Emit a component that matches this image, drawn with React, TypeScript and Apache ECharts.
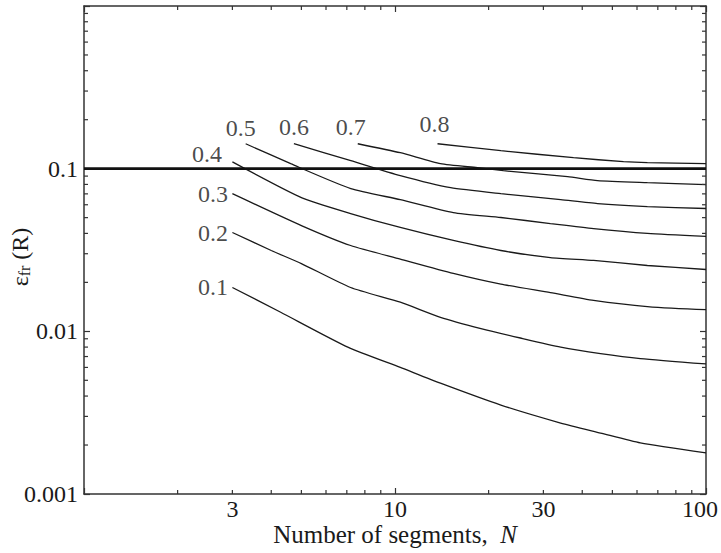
import React, { useEffect, useRef } from 'react';
import * as echarts from 'echarts';

// ---- data ----
const curveNames = ['0.1', '0.2', '0.3', '0.4', '0.5', '0.6', '0.7', '0.8'];

const curve01: number[][] = [[3, 0.0186], [4.29, 0.0131], [7.05, 0.008], [10.4, 0.006], [14, 0.0048], [21.9, 0.00352], [34.1, 0.00273], [45.8, 0.00237], [61.5, 0.00206], [100, 0.00179]];
const curve02: number[][] = [[3, 0.0405], [4, 0.0314], [5, 0.0261], [7.2, 0.0186], [10.4, 0.0151], [14, 0.0122], [18.9, 0.0104], [25.3, 0.0091], [34.1, 0.008], [45.8, 0.0073], [61.5, 0.0068], [100, 0.0063]];
const curve03: number[][] = [[3, 0.0702], [5, 0.0447], [7.2, 0.0337], [10.4, 0.0278], [15.4, 0.0227], [21.9, 0.0195], [31.6, 0.0173], [43.5, 0.0155], [64.8, 0.0142], [100, 0.0136]];
const curve04: number[][] = [[3, 0.11], [5, 0.0664], [7.2, 0.053], [10.4, 0.0435], [15.4, 0.0362], [21.9, 0.0314], [31.6, 0.0284], [43.5, 0.0273], [64.8, 0.0254], [100, 0.024]];
const curve05: number[][] = [[3.31, 0.1423], [4.62, 0.1073], [7.21, 0.0754], [10.4, 0.0645], [15.4, 0.0537], [21.9, 0.0501], [31.6, 0.046], [43.5, 0.0428], [64.8, 0.04], [100, 0.0383]];
const curve06: number[][] = [[4.73, 0.1423], [7.21, 0.1119], [10.4, 0.0906], [15.1, 0.0764], [21.9, 0.0702], [34.1, 0.0645], [44.8, 0.061], [64.8, 0.0585], [100, 0.0569]];
const curve07: number[][] = [[7.59, 0.1423], [10.4, 0.1253], [14, 0.1073], [18.4, 0.1014], [22.3, 0.0972], [35.9, 0.0893], [44.8, 0.0844], [64.8, 0.082], [100, 0.0798]];
const curve08: number[][] = [[13.7, 0.1423], [21.9, 0.129], [37.5, 0.1168], [54.3, 0.1104], [64.8, 0.1088], [100, 0.1073]];

const curves = [curve01, curve02, curve03, curve04, curve05, curve06, curve07, curve08];

const thresholdValue = 0.1;
const xRange = [1, 100];
const yRange = [0.001, 1];
const xTickLabels = [3, 10, 30, 100];
const yTickLabels = [0.001, 0.01, 0.1];
const xMinorTicks = [2, 3, 4, 5, 6, 7, 8, 9, 20, 30, 40, 50, 60, 70, 80, 90];
const yMinorTicks = [0.002, 0.003, 0.004, 0.005, 0.006, 0.007, 0.008, 0.009, 0.02, 0.03, 0.04, 0.05, 0.06, 0.07, 0.08, 0.09, 0.2, 0.3, 0.4, 0.5, 0.6, 0.7, 0.8, 0.9];

// ---- layout / style ----
const FONT = "'Liberation Serif', 'Times New Roman', serif";
const INK = '#1a1a1a';
const AXIS = '#333';
const labelPlacement: any[] = [
  { position: 'left', distance: 4 },
  { position: 'left', distance: 4 },
  { position: 'left', distance: 4 },
  { position: 'left', distance: 4, offset: [-6, -8] },
  { position: 'top', distance: 3, offset: [-5, 0] },
  { position: 'top', distance: 4, offset: [0, 0] },
  { position: 'top', distance: 4, offset: [-7, 0] },
  { position: 'top', distance: 7, offset: [-3, 0] },
];

export default function App() {
  const ref = useRef<HTMLDivElement>(null);
  useEffect(() => {
    if (!ref.current) return;
    const chart = echarts.init(ref.current, undefined, { renderer: 'svg' });

    const tickData = [
      ...xMinorTicks.map((v) => [v, yRange[0], 0]),
      ...yMinorTicks.map((v) => [xRange[0], v, 1]),
    ];
    const axisCommon = {
      type: 'log',
      logBase: 10,
      axisLine: { show: true, lineStyle: { color: AXIS, width: 1.5 } },
      axisTick: { show: true, inside: true, length: 6, lineStyle: { color: AXIS, width: 1.2 } },
      splitLine: { show: false },
      minorTick: { show: false },
    };

    const option: any = {
      animation: false,
      backgroundColor: '#fff',
      textStyle: { fontFamily: FONT, color: INK },
      grid: { left: 84, right: 15, top: 6, bottom: 59, containLabel: false, outerBoundsMode: 'none' },
      xAxis: [
        {
          ...axisCommon,
          min: xRange[0],
          max: xRange[1],
          position: 'bottom',
          axisLabel: { show: false },
          name: 'Number of segments,  {i|N}',
          nameLocation: 'middle',
          nameGap: 28,
          nameMoveOverlap: false,
          nameTextStyle: {
            fontSize: 25,
            fontFamily: FONT,
            color: INK,
            rich: { i: { fontSize: 25, fontFamily: FONT, fontStyle: 'italic', color: INK } },
          },
        },
        {
          ...axisCommon,
          min: xRange[0],
          max: xRange[1],
          position: 'top',
          axisLabel: { show: false },
        },
      ],
      yAxis: [
        {
          ...axisCommon,
          min: yRange[0],
          max: yRange[1],
          position: 'left',
          axisLabel: {
            show: true,
            margin: 6,
            fontSize: 24,
            fontFamily: FONT,
            color: INK,
            formatter: (v: number) => {
              const t = yTickLabels.find((l) => Math.abs(Math.log10(l) - Math.log10(v)) < 0.01);
              return t === undefined ? '' : String(t);
            },
          },
          name: '{e|ε}{s|fr} (R)',
          nameLocation: 'middle',
          nameGap: 52,
          nameMoveOverlap: false,
          nameTextStyle: {
            fontSize: 24,
            fontFamily: FONT,
            color: INK,
            padding: [0, 14, 0, 0],
            rich: {
              e: { fontSize: 24, fontFamily: FONT, color: INK },
              s: { fontSize: 16, fontFamily: FONT, color: INK, verticalAlign: 'bottom', padding: [8, 0, 0, 0] },
            },
          },
        },
        {
          ...axisCommon,
          min: yRange[0],
          max: yRange[1],
          position: 'right',
          axisLabel: { show: false },
        },
      ],
      series: [
        ...curves.map((c, i) => ({
          type: 'line',
          name: curveNames[i],
          data: c,
          showSymbol: false,
          symbol: 'none',
          smooth: 0.2,
          lineStyle: { color: INK, width: 1.3 },
          z: 3,
        })),
        {
          type: 'line',
          name: 'threshold',
          data: [[xRange[0], thresholdValue], [xRange[1], thresholdValue]],
          showSymbol: false,
          symbol: 'none',
          lineStyle: { color: '#111', width: 2.6 },
          z: 4,
        },
        {
          type: 'scatter',
          name: 'labels',
          symbolSize: 1,
          itemStyle: { color: 'rgba(0,0,0,0)' },
          silent: true,
          label: { show: true, fontSize: 24, fontFamily: FONT, color: INK },
          data: curves.map((c, i) => ({
            value: c[0],
            label: { show: true, formatter: curveNames[i], ...labelPlacement[i] },
          })),
          z: 5,
        },
        {
          type: 'custom',
          name: 'minorTicks',
          silent: true,
          clip: false,
          encode: { x: 0, y: 1 },
          data: tickData,
          renderItem: (params: any, api: any) => {
            const cs = params.coordSys;
            const kind = api.value(2);
            const len = 4;
            const style = { stroke: AXIS, lineWidth: 1.2 };
            if (kind === 0) {
              const x = api.coord([api.value(0), yRange[0]])[0];
              const b = cs.y + cs.height;
              return {
                type: 'group',
                children: [
                  { type: 'line', shape: { x1: x, y1: b, x2: x, y2: b - len }, style },
                  { type: 'line', shape: { x1: x, y1: cs.y, x2: x, y2: cs.y + len }, style },
                ],
              };
            }
            const y = api.coord([xRange[0], api.value(1)])[1];
            const r = cs.x + cs.width;
            return {
              type: 'group',
              children: [
                { type: 'line', shape: { x1: cs.x, y1: y, x2: cs.x + len, y2: y }, style },
                { type: 'line', shape: { x1: r, y1: y, x2: r - len, y2: y }, style },
              ],
            };
          },
          z: 6,
        },
        {
          type: 'custom',
          name: 'xLabels',
          silent: true,
          clip: false,
          encode: { x: 0, y: 1 },
          data: xTickLabels.map((v) => [v, yRange[0]]),
          renderItem: (params: any, api: any) => {
            const cs = params.coordSys;
            const v = api.value(0);
            const txt = String(v);
            const half = txt.length * 6;
            const x = Math.min(api.coord([v, yRange[0]])[0], api.getWidth() - 3 - half);
            return {
              type: 'text',
              x,
              y: cs.y + cs.height + 3,
              style: {
                text: txt,
                fill: INK,
                font: `24px ${FONT}`,
                textAlign: 'center',
                textVerticalAlign: 'top',
              },
            };
          },
          z: 6,
        },
      ],
    };
    chart.setOption(option);
    return () => chart.dispose();
  }, []);

  return (
    <div
      ref={ref}
      style={{ position: 'fixed', left: 0, top: 0, width: 721, height: 553, background: '#fff' }}
    />
  );
}
